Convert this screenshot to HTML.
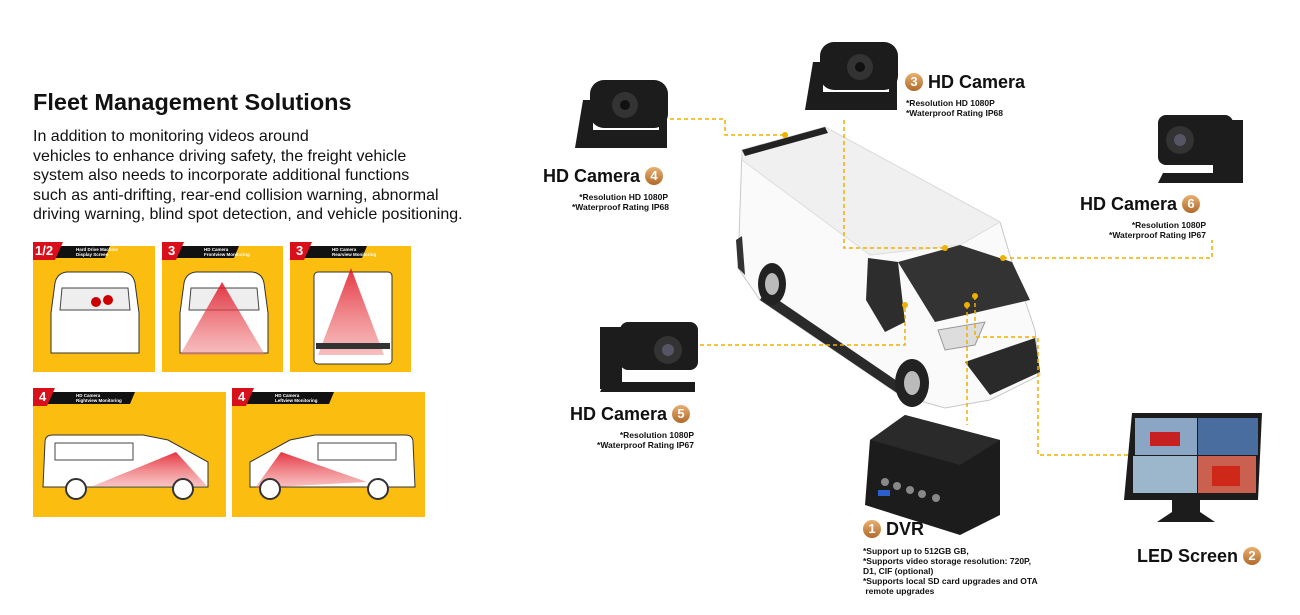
<!DOCTYPE html>
<html><head><meta charset="utf-8"><style>
body{margin:0;width:1300px;height:615px;background:#fff;position:relative;overflow:hidden;font-family:"Liberation Sans",Arial,sans-serif;color:#111}
.a{position:absolute}
h1{position:absolute;left:33px;top:89px;margin:0;font-size:23.5px;font-weight:bold}
.p{left:33px;top:127px;font-size:16px;line-height:19.5px;width:440px}
.big{font-size:18px;font-weight:bold;white-space:nowrap}
.sm{font-size:8.5px;font-weight:bold;line-height:10px;white-space:nowrap}
.n{display:inline-block;width:18px;height:18px;border-radius:50%;background:linear-gradient(#e8b070,#b06a2a);color:#fff;font-size:13px;text-align:center;line-height:18px;vertical-align:2px}
</style></head><body>
<h1>Fleet Management Solutions</h1>
<div class="a p">In addition to monitoring videos around<br>vehicles to enhance driving safety, the freight vehicle<br>system also needs to incorporate additional functions<br>such as anti-drifting, rear-end collision warning, abnormal<br>driving warning, blind spot detection, and vehicle positioning.</div>

<svg class="a" style="left:0;top:0" width="1300" height="615">
<defs><linearGradient id="r" x1="0" y1="0" x2="0" y2="1"><stop offset="0" stop-color="#e01020"/><stop offset="1" stop-color="#f08080" stop-opacity=".6"/></linearGradient>
<linearGradient id="rs" x1="0" y1="0" x2="0" y2="1"><stop offset="0" stop-color="#e01020"/><stop offset="1" stop-color="#f07070" stop-opacity=".5"/></linearGradient></defs>
<!-- panels -->
<g>
<rect x="33" y="246" width="122" height="126" fill="#fbbd0f"/>
<rect x="162" y="246" width="121" height="126" fill="#fbbd0f"/>
<rect x="290" y="246" width="121" height="126" fill="#fbbd0f"/>
<rect x="33" y="392" width="193" height="125" fill="#fbbd0f"/>
<rect x="232" y="392" width="193" height="125" fill="#fbbd0f"/>
<g fill="#fff" stroke="#333" stroke-width="1">
<path d="M55 283 q2-10 12-11 h56 q10 1 12 11 l4 30 v40 h-88 v-40z"/>
<path d="M184 283 q2-10 12-11 h56 q10 1 12 11 l4 30 v40 h-88 v-40z"/>
<rect x="314" y="272" width="78" height="92" rx="4"/>
</g>
<path d="M62 288 h66 l2 22 h-70z M191 288 h66 l2 22 h-70z" fill="#eee" stroke="#444"/>
<circle cx="96" cy="302" r="5" fill="#c00"/><circle cx="108" cy="300" r="5" fill="#c00"/>
<path d="M222 282 L265 355 H180Z" fill="url(#r)" opacity=".85"/>
<path d="M351 268 L384 355 H318Z" fill="url(#r)" opacity=".85"/>
<rect x="316" y="343" width="74" height="6" fill="#333"/>
<g fill="#fff" stroke="#333">
<path d="M45 442 q0-7 8-7 h90 l25 5 l40 22 v25 h-165z"/>
<path d="M413 442 q0-7-8-7 h-90 l-25 5 l-40 22 v25 h165z"/>
</g>
<rect x="55" y="443" width="78" height="17" fill="#fff" stroke="#444"/>
<rect x="318" y="443" width="78" height="17" fill="#fff" stroke="#444"/>
<path d="M176 452 L93 486 H207Z" fill="url(#rs)" opacity=".85"/>
<path d="M281 452 L255 488 L367 482Z" fill="url(#rs)" opacity=".85"/>
<g fill="#fff" stroke="#333" stroke-width="2"><circle cx="76" cy="489" r="10"/><circle cx="183" cy="489" r="10"/><circle cx="270" cy="489" r="10"/><circle cx="378" cy="489" r="10"/></g>
<g font-family="Liberation Sans" font-weight="bold">
<g fill="#111"><path d="M40 246 h70 l-5 12 h-65z M169 246 h70 l-5 12 h-65z M297 246 h70 l-5 12 h-65z M40 392 h95 l-5 12 h-90z M239 392 h95 l-5 12 h-90z"/></g>
<g fill="#d8101c"><path d="M33 242 h30 l-8 18 h-22z M162 242 h22 l-8 18 h-14z M290 242 h22 l-8 18 h-14z M33 388 h22 l-8 18 h-14z M232 388 h22 l-8 18 h-14z"/></g>
<g fill="#fff" font-size="13"><text x="35" y="255">1/2</text><text x="168" y="255">3</text><text x="296" y="255">3</text><text x="39" y="401">4</text><text x="238" y="401">4</text></g>
<g fill="#fff" font-size="4.5"><text x="76" y="251">Hard Drive Machine</text><text x="76" y="256">Display Screen</text><text x="204" y="251">HD Camera</text><text x="204" y="256">Frontview Monitoring</text><text x="332" y="251">HD Camera</text><text x="332" y="256">Rearview Monitoring</text><text x="76" y="397">HD Camera</text><text x="76" y="402">Rightview Monitoring</text><text x="275" y="397">HD Camera</text><text x="275" y="402">Leftview Monitoring</text></g>
</g>
</g>

<!-- van -->
<g>
<path d="M742 150 L825 127 L1000 222 L1012 262 L1035 330 L1040 375 L990 400 L945 408 L900 395 L760 300 L738 268 Z" fill="#fafafa" stroke="#c8c8c8"/>
<path d="M742 150 L825 127 L1000 222 L960 245 L870 255 L742 160 Z" fill="#f0f0f0" stroke="#ddd"/>
<path d="M742 150 L825 127 L828 133 L745 156Z" fill="#222"/>
<path d="M736 240 L742 236 L745 275 L738 268Z" fill="#333"/>
<path d="M760 300 L900 395 L903 385 L765 291 Z" fill="#2a2a2a"/>
<path d="M898 262 L960 245 L1012 262 L1030 300 L935 322 Z" fill="#333"/>
<path d="M868 258 L898 262 L905 322 L885 332 L866 300 Z" fill="#2d2d2d"/>
<path d="M965 362 L1035 338 L1040 372 L990 395 Z" fill="#2a2a2a"/>
<path d="M938 330 L985 322 L975 345 L945 350Z" fill="#ddd" stroke="#999"/>
<ellipse cx="772" cy="284" rx="14" ry="21" fill="#222"/><ellipse cx="772" cy="284" rx="7" ry="11" fill="#bbb"/>
<ellipse cx="912" cy="383" rx="17" ry="24" fill="#222"/><ellipse cx="912" cy="383" rx="8" ry="12" fill="#bbb"/>
</g>

<!-- connectors -->
<g fill="none" stroke="#f0b000" stroke-width="1.5" stroke-dasharray="4,3">
<path d="M670 119 H725 V135 H785"/>
<path d="M844 120 V248 H945"/>
<path d="M1003 258 H1212 V240"/>
<path d="M700 345 H905 V305"/>
<path d="M967 305 V425"/>
<path d="M975 296 V337 H1038 V455 H1135"/>
</g>
<g fill="#f0b000"><circle cx="785" cy="135" r="3"/><circle cx="945" cy="248" r="3"/><circle cx="1003" cy="258" r="3"/><circle cx="905" cy="305" r="3"/><circle cx="967" cy="305" r="3"/><circle cx="975" cy="296" r="3"/></g>

<g fill="#1c1c1c">
<g transform="translate(575,80)"><rect x="15" y="0" width="78" height="48" rx="14"/><path d="M8 20 h10 v30 h66 v-12 h8 v30 h-92z"/><circle cx="50" cy="25" r="13" fill="#333"/><circle cx="50" cy="25" r="5" fill="#111"/></g>
<g transform="translate(805,42)"><rect x="15" y="0" width="78" height="48" rx="14"/><path d="M8 20 h10 v30 h66 v-12 h8 v30 h-92z"/><circle cx="55" cy="25" r="13" fill="#333"/><circle cx="55" cy="25" r="5" fill="#111"/></g>
<g transform="translate(600,322)"><rect x="20" y="0" width="78" height="48" rx="8"/><path d="M0 5 h22 v62 h-22z M5 60 h90 v10 h-95z"/><circle cx="68" cy="28" r="14" fill="#333"/><circle cx="68" cy="28" r="6" fill="#556"/></g>
<g transform="translate(1158,115)"><rect x="0" y="0" width="75" height="50" rx="8"/><path d="M55 5 h30 v60 h-30z M5 58 h80 v10 h-85z"/><circle cx="22" cy="25" r="14" fill="#333"/><circle cx="22" cy="25" r="6" fill="#556"/></g>
<path d="M870 440 L905 415 L1000 440 L1000 515 L960 535 L865 505Z"/>
<path d="M870 440 L905 415 L1000 440 L960 465Z" fill="#2a2a2a"/>
<g fill="#888"><circle cx="885" cy="482" r="4"/><circle cx="897" cy="486" r="4"/><circle cx="910" cy="490" r="4"/><circle cx="922" cy="494" r="4"/><circle cx="936" cy="498" r="4"/></g>
<rect x="878" y="490" width="12" height="6" fill="#2b5fd0"/>
<path d="M1132 413 H1262 L1258 500 H1124Z"/>
<rect x="1135" y="418" width="62" height="37" fill="#8aa6c4"/><rect x="1198" y="418" width="60" height="37" fill="#4a6da0"/>
<rect x="1133" y="456" width="64" height="37" fill="#9cb6cc"/><rect x="1198" y="456" width="58" height="37" fill="#c96050"/>
<rect x="1150" y="432" width="30" height="14" fill="#c82020"/><rect x="1212" y="466" width="28" height="20" fill="#d02818"/>
<path d="M1172 500 h28 v12 l15 10 h-58 l15-10z"/>
</g>
</svg>

<div class="a big" style="left:543px;top:166px">HD Camera <span class="n">4</span></div>
<div class="a sm" style="left:572px;top:192px;text-align:right;width:96px">*Resolution HD 1080P<br>*Waterproof Rating IP68</div>
<div class="a big" style="left:905px;top:72px"><span class="n">3</span> HD Camera</div>
<div class="a sm" style="left:906px;top:98px">*Resolution HD 1080P<br>*Waterproof Rating IP68</div>
<div class="a big" style="left:1080px;top:194px">HD Camera <span class="n">6</span></div>
<div class="a sm" style="left:1100px;top:220px;text-align:right;width:106px">*Resolution 1080P<br>*Waterproof Rating IP67</div>
<div class="a big" style="left:570px;top:404px">HD Camera <span class="n">5</span></div>
<div class="a sm" style="left:590px;top:430px;text-align:right;width:104px">*Resolution 1080P<br>*Waterproof Rating IP67</div>
<div class="a big" style="left:863px;top:519px"><span class="n">1</span> DVR</div>
<div class="a sm" style="left:863px;top:546px">*Support up to 512GB GB,<br>*Supports video storage resolution: 720P,<br>D1, CIF (optional)<br>*Supports local SD card upgrades and OTA<br>&nbsp;remote upgrades</div>
<div class="a big" style="left:1137px;top:546px">LED Screen <span class="n">2</span></div>
</body></html>
